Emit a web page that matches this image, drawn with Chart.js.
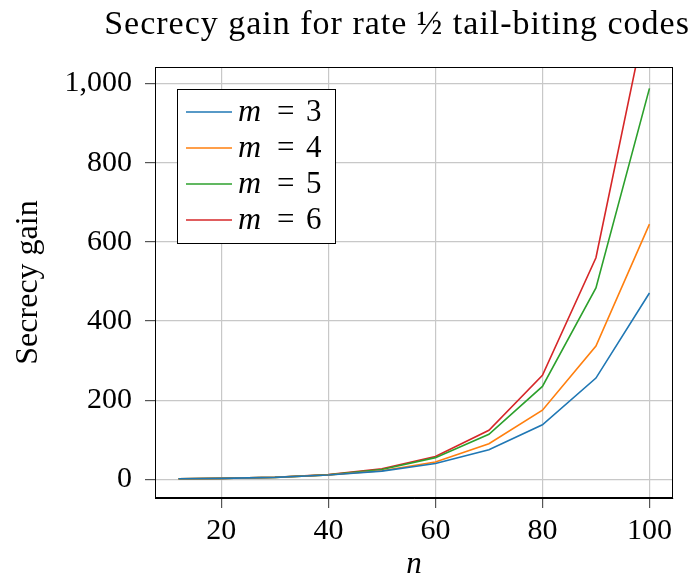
<!DOCTYPE html>
<html lang="en">
<head>
  <meta charset="UTF-8">
  <title>Secrecy gain</title>
  <script src="https://cdn.jsdelivr.net/npm/chart.js"></script>
  <style>
    body { margin: 0; background: #fff; }
    #wrap { width: 694px; height: 576px; }
  </style>
</head>
<body>
  <div id="wrap"><canvas id="plot" width="694" height="576"></canvas></div>

  <script>
    const titleText = "Secrecy gain for rate \u00bd tail-biting codes";
    const nValues = [12, 20, 30, 40, 50, 60, 70, 80, 90, 100];
    const gainM3 = [1.5, 2.5, 5, 11, 21, 40, 75, 138, 256, 471];
    const gainM4 = [1.5, 2.5, 5, 11, 22, 44, 90, 175, 337, 645];
    const gainM5 = [1.5, 2.6, 5.2, 11.5, 25, 55, 114, 235, 484, 988];
    const gainM6 = [1.5, 2.6, 5.3, 12, 27, 58, 124, 263, 560, 1210];
    const seriesLabels = ["m = 3", "m = 4", "m = 5", "m = 6"];
    const xTicks = [20, 40, 60, 80, 100];
    const yTicks = [0, 200, 400, 600, 800, 1000];

    const FONT = "'Liberation Serif', 'DejaVu Serif', serif";
    const colors = ["#1f77b4", "#ff7f0e", "#2ca02c", "#d62728"];
    const allSeries = [gainM3, gainM4, gainM5, gainM6];

    const datasets = allSeries.map((s, i) => ({
      label: seriesLabels[i],
      data: nValues.map((n, j) => ({ x: n, y: s[j] })),
      borderColor: colors[i],
      backgroundColor: colors[i],
      borderWidth: 1.6,
      pointRadius: 0,
      fill: false,
      tension: 0
    }));

    // frame, title and legend drawn on top
    const extras = {
      id: "extras",
      afterDraw(chart) {
        const ctx = chart.ctx;
        const a = chart.chartArea;
        ctx.save();
        ctx.strokeStyle = "#000";
        ctx.lineWidth = 1;
        ctx.strokeRect(Math.round(a.left) + 0.5, Math.round(a.top) + 0.5,
                       Math.round(a.right - a.left) - 1, Math.round(a.bottom - a.top) - 1);

        ctx.fillStyle = "#000";
        ctx.font = "34px " + FONT;
        ctx.letterSpacing = "1px";
        ctx.textAlign = "center";
        ctx.textBaseline = "alphabetic";
        ctx.fillText(titleText, 397, 34);
        ctx.letterSpacing = "0px";

        // legend box
        const bx = 177.5, by = 89.5, bw = 158, bh = 154;
        ctx.fillStyle = "#fff";
        ctx.fillRect(bx, by, bw, bh);
        ctx.strokeStyle = "#000";
        ctx.strokeRect(bx, by, bw, bh);
        chart.data.datasets.forEach((ds, i) => {
          const y = 112 + i * 36;
          ctx.strokeStyle = ds.borderColor;
          ctx.lineWidth = 1.6;
          ctx.beginPath();
          ctx.moveTo(186, y);
          ctx.lineTo(232, y);
          ctx.stroke();
          ctx.fillStyle = "#000";
          ctx.textAlign = "left";
          ctx.textBaseline = "middle";
          const parts = ds.label.split(" = ");
          ctx.font = "italic 32px " + FONT;
          ctx.fillText(parts[0], 238, y + 1);
          ctx.font = "31px " + FONT;
          ctx.fillText("=", 277, y + 1);
          ctx.fillText(parts[1], 306, y + 1);
        });
        ctx.restore();
      }
    };

    new Chart(document.getElementById("plot"), {
      type: "line",
      data: { datasets },
      plugins: [extras],
      options: {
        responsive: false,
        animation: false,
        layout: { padding: { top: 67, right: 21, left: 0, bottom: 0 } },
        plugins: { legend: { display: false }, title: { display: false }, tooltip: { enabled: false } },
        scales: {
          x: {
            type: "linear",
            min: 7.6,
            max: 104.4,
            afterBuildTicks: s => { s.ticks = xTicks.map(v => ({ value: v })); },
            afterFit: s => { s.height = 78; },
            grid: { color: "#c8c8c8", lineWidth: 1.2, tickLength: 10, tickColor: "#555", tickWidth: 1.2 },
            border: { display: true, color: "#000", width: 1 },
            ticks: { color: "#000", font: { family: FONT, size: 30 }, padding: 5, maxRotation: 0 },
            title: { display: true, text: "n", color: "#000", font: { family: FONT, size: 31, style: "italic", lineHeight: 0.7 }, padding: { top: 0, bottom: 0 } }
          },
          y: {
            type: "linear",
            min: -47,
            max: 1042,
            afterBuildTicks: s => { s.ticks = yTicks.map(v => ({ value: v })); },
            afterFit: s => { s.width = 155; },
            grid: { color: "#c8c8c8", lineWidth: 1.2, tickLength: 10, tickColor: "#555", tickWidth: 1.2 },
            border: { display: true, color: "#000", width: 1 },
            ticks: { color: "#000", font: { family: FONT, size: 30 }, padding: 13, callback: v => v.toLocaleString("en-US") },
            title: { display: true, text: "Secrecy gain", color: "#000", font: { family: FONT, size: 32 }, padding: { top: 9, bottom: 0 } }
          }
        }
      }
    });
  </script>
</body>
</html>
